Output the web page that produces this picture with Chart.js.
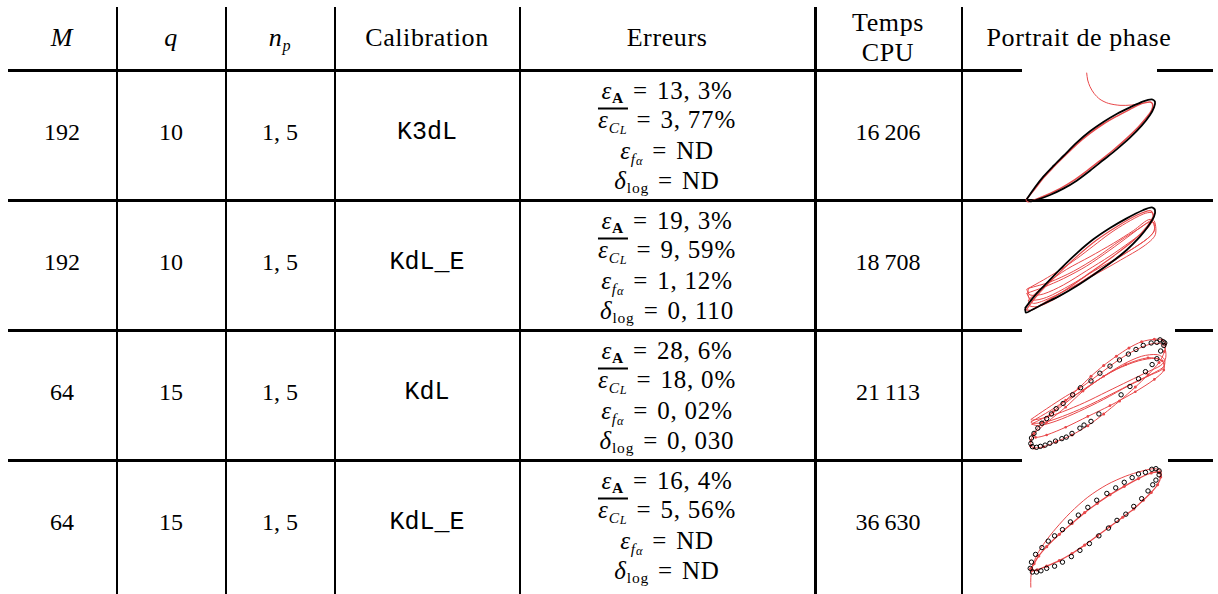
<!DOCTYPE html>
<html>
<head>
<meta charset="utf-8">
<script src="https://cdn.jsdelivr.net/npm/chart.js@4.4.0/dist/chart.umd.min.js"></script>
<style>
  body { margin:0; width:1218px; height:594px; background:#fff; position:relative; overflow:hidden;
         font-family:"Liberation Serif", "DejaVu Serif", serif; color:#000; }
  .hl { position:absolute; left:8px; width:1205px; height:3px; background:#000; }
  .vl { position:absolute; top:7px; height:590px; width:2px; background:#000; }
  .cell { position:absolute; text-align:center; white-space:nowrap; font-size:24px; transform:translate(-50%,-50%); }
  .head { font-size:26px; letter-spacing:0.6px; line-height:30px; }
  .mono { font-family:"Liberation Mono", "DejaVu Sans Mono", monospace; font-size:25px; }
  .err { font-size:25px; line-height:1; letter-spacing:0.8px; }
  .eq { margin:0 9px; }
  sub { font-size:62%; vertical-align:-0.3em; line-height:0; }
  sub sub { font-size:80%; vertical-align:-0.15em; }
  .ov { display:inline-block; border-top:2px solid #000; line-height:0.75; padding-top:1px; }
  .patch { position:absolute; background:#fff; height:5px; }
  canvas { position:absolute; }
</style>
</head>
<body>
<script>
// valeurs du tableau
var headers = ["<i>M</i>", "<i>q</i>", "<i>n</i><sub><i>p</i></sub>", "Calibration", "Erreurs", "Temps<br>CPU", "Portrait de phase"];
var colM = ["192", "192", "64", "64"];
var colQ = ["10", "10", "15", "15"];
var colNp = ["1, 5", "1, 5", "1, 5", "1, 5"];
var calibration = ["K3dL", "KdL_E", "KdL", "KdL_E"];
var errA = ["13, 3%", "19, 3%", "28, 6%", "16, 4%"];
var errCL = ["3, 77%", "9, 59%", "18, 0%", "5, 56%"];
var errF = ["ND", "1, 12%", "0, 02%", "ND"];
var deltaLog = ["ND", "0, 110", "0, 030", "ND"];
var tempsCPU = ["16\u2009206", "18\u2009708", "21\u2009113", "36\u2009630"];

// portraits de phase
var p1Noir = [[50,388],[75,352],[100,320],[130,288],[160,258],[200,218],[240,184],[280,156],[320,132],[360,112],[400,94],[425,88],[435,95],[432,112],[420,135],[395,167],[360,203],[320,238],[280,270],[240,302],[200,332],[160,356],[120,375],[85,388],[60,394],[50,388]];
var p1Rouge = [[48,390],[75,356],[100,324],[130,292],[160,262],[200,223],[240,190],[280,162],[320,139],[360,118],[395,101],[420,96],[428,103],[425,120],[410,142],[385,171],[350,205],[310,240],[270,272],[230,303],[190,332],[150,356],[110,375],[75,389],[55,395],[48,390]];
var p1Queue = [[230,8],[233,30],[240,50],[252,70],[270,88],[295,100],[330,106],[365,105],[395,100]];

var p2Noir = [[45,325],[70,292],[100,260],[150,208],[200,160],[250,118],[300,84],[350,55],[400,30],[425,22],[435,30],[432,50],[415,78],[390,110],[350,150],[300,190],[250,225],[200,258],[150,287],[100,312],[65,330],[48,338],[45,325]];
var p2RougeA = [[48,330],[80,288],[130,236],[200,170],[260,120],[320,80],[380,46],[420,32],[430,45],[412,78],[372,120],[312,167],[242,217],[172,266],[110,304],[65,330],[48,330]];
var p2RougeB = [[50,268],[100,240],[150,210],[200,176],[250,138],[300,100],[350,68],[400,42],[425,38],[430,55],[410,88],[360,126],[300,168],[230,212],[160,255],[100,282],[60,285],[50,268]];
var p2RougeC = [[50,280],[100,262],[160,236],[230,198],[300,150],[360,106],[410,70],[432,68],[430,98],[390,132],[320,175],[250,214],[180,256],[110,292],[65,300],[50,280]];
var p2RougeD = [[55,300],[110,250],[170,208],[240,170],[310,130],[370,92],[420,58],[434,88],[412,116],[362,150],[292,195],[222,240],[150,288],[90,318],[60,318],[55,300]];
var p2RougeE = [[55,265],[120,246],[190,214],[260,172],[330,122],[390,84],[430,60],[436,104],[402,138],[332,180],[262,220],[192,258],[120,294],[70,310],[55,290],[55,265]];

var p3Noir = [[468,38],[458,32],[448,40],[430,42],[405,50],[382,63],[358,78],[330,97],[300,117],[268,140],[240,165],[207,187],[182,210],[152,238],[130,255],[115,272],[100,287],[85,302],[72,318],[60,335],[52,350],[50,368],[55,378],[68,380],[80,377],[95,373],[110,367],[128,360],[148,352],[162,347],[180,335],[205,318],[218,308],[240,296],[265,272],[335,210],[363,183],[390,158],[412,135],[433,112],[448,93],[460,68],[470,50],[473,42]];
var p3Rouge1 = [[50,375],[60,382],[90,378],[130,362],[180,340],[230,310],[280,272],[330,230],[380,185],[420,145],[455,105],[472,70],[475,45],[465,32],[440,30],[400,38],[360,58],[320,85],[280,115],[240,150],[200,190],[160,228],[120,265],[85,300],[60,335],[50,360],[50,375]];
var p3Rouge2 = [[50,290],[100,255],[160,215],[210,185],[270,140],[330,95],[380,65],[430,45],[462,45],[475,65],[475,95],[460,115],[420,135],[360,165],[290,200],[220,235],[150,265],[90,285],[55,292],[50,290]];
var p3Rouge3 = [[50,298],[110,262],[170,222],[220,192],[280,150],[340,112],[400,85],[450,80],[472,95],[470,118],[440,138],[380,168],[300,210],[220,250],[150,280],[90,300],[55,302],[50,298]];
var p3Rouge4 = [[52,305],[120,268],[190,212],[250,170],[320,128],[390,100],[445,92],[470,105],[468,125],[430,145],[360,180],[280,225],[200,265],[130,295],[75,310],[52,305]];
var p3Rouge5 = [[55,340],[100,300],[160,250],[215,198],[280,150],[350,112],[420,90],[465,100],[470,130],[440,160],[380,200],[300,245],[230,280],[160,315],[100,340],[65,348],[55,340]];

var p4Noir = [[455,35],[445,28],[432,30],[412,40],[390,45],[370,57],[345,72],[318,90],[290,108],[258,130],[230,153],[200,178],[175,200],[150,225],[125,245],[105,262],[85,283],[65,305],[52,330],[48,350],[55,362],[68,362],[82,358],[100,350],[125,343],[150,330],[178,312],[205,292],[235,270],[265,245],[295,220],[322,195],[350,175],[375,150],[400,125],[420,100],[435,80],[445,65],[455,48]];
var p4Rouge = [[50,352],[60,335],[75,310],[100,280],[140,240],[180,205],[220,170],[260,140],[300,112],[345,85],[390,60],[430,42],[455,40],[460,55],[450,80],[430,105],[405,130],[375,158],[340,185],[300,215],[260,245],[220,275],[180,302],[140,325],[100,343],[70,355],[55,356],[50,352]];
var p4Arc = [[50,412],[50,380],[55,345],[70,305],[95,265],[130,220],[175,170],[230,120],[290,80],[350,52],[400,36],[440,28],[460,35],[462,50]];

var rouge = '#e8484a';
var colX = [62, 171, 280, 427, 667, 888, 1079];
var rowTop = [70, 200, 330, 460];

function add(html, cls, x, y) {
    var d = document.createElement('div');
    d.className = 'cell ' + (cls || '');
    d.innerHTML = html;
    d.style.left = x + 'px';
    d.style.top = y + 'px';
    document.body.appendChild(d);
    return d;
}
function line(cls, x, y, extra) {
    var d = document.createElement('div');
    d.className = cls;
    d.style.left = x + 'px';
    d.style.top = y + 'px';
    if (extra) d.style.width = extra + 'px';
    document.body.appendChild(d);
}

// grille
for (var i = 0; i < rowTop.length; i++) line('hl', 8, rowTop[i] - 1);
[117, 226, 335, 520, 962].forEach(function (x) { line('vl', x - 1, 7); });
line('vl', 814, 7, 3);
// bouts blancs des images
[[1022, 68, 135], [1022, 328, 153], [1022, 458, 146]].forEach(function (p) {
    var d = document.createElement('div');
    d.className = 'patch';
    d.style.left = p[0] + 'px'; d.style.top = p[1] + 'px'; d.style.width = p[2] + 'px';
    document.body.appendChild(d);
});

// en-tetes
for (var i = 0; i < headers.length; i++) {
    add(headers[i], 'head', colX[i], 38);
}

// lignes
var eq = '<span class="eq">=</span>';
for (var r = 0; r < 4; r++) {
    var mid = rowTop[r] + 62;
    add(colM[r], '', colX[0], mid);
    add(colQ[r], '', colX[1], mid);
    add(colNp[r], '', colX[2], mid);
    add(calibration[r], 'mono', colX[3], mid);
    add(tempsCPU[r], '', colX[5], mid);
    var t = rowTop[r];
    add('<i>ε</i><sub><b>A</b></sub>' + eq + errA[r], 'err', colX[4], t + 20);
    add('<span class="ov"><i>ε</i><sub><i>C</i><sub><i>L</i></sub></sub></span>' + eq + errCL[r], 'err', colX[4], t + 49);
    add('<i>ε</i><sub><i>f</i><sub><i>α</i></sub></sub>' + eq + errF[r], 'err', colX[4], t + 80);
    add('<i>δ</i><sub>log</sub>' + eq + deltaLog[r], 'err', colX[4], t + 110);
}

function pts(a) { return a.map(function (p) { return { x: p[0], y: p[1] }; }); }
function courbe(a, col, w, rad) {
    return { data: pts(a), showLine: true, borderColor: col, borderWidth: w, tension: 0.3,
             pointRadius: rad || 0, pointBackgroundColor: col, pointBorderColor: col, pointBorderWidth: 0 };
}
function cercles(a) {
    return { data: pts(a), showLine: false, pointRadius: 2.2, pointBorderColor: '#000', pointBorderWidth: 1,
             pointBackgroundColor: 'transparent' };
}
function portrait(top, h, datasets) {
    var c = document.createElement('canvas');
    c.width = 200; c.height = h;
    c.style.left = '1010px'; c.style.top = top + 'px';
    document.body.appendChild(c);
    new Chart(c, {
        type: 'scatter',
        data: { datasets: datasets },
        options: {
            responsive: false, animation: false, devicePixelRatio: 1,
            layout: { padding: 0 },
            plugins: { legend: { display: false }, tooltip: { enabled: false } },
            scales: {
                x: { display: false, min: 0, max: 600 },
                y: { display: false, min: 0, max: h * 3, reverse: true }
            }
        }
    });
}

portrait(70, 140, [courbe(p1Noir, '#000', 1.8), courbe(p1Rouge, rouge, 1.5), courbe(p1Queue, rouge, 1)]);
portrait(200, 130, [courbe(p2Noir, '#000', 1.8), courbe(p2RougeA, rouge, 1.2), courbe(p2RougeB, rouge, 1),
    courbe(p2RougeC, rouge, 1), courbe(p2RougeD, rouge, 1), courbe(p2RougeE, rouge, 1)]);
portrait(325, 135, [cercles(p3Noir), courbe(p3Rouge1, rouge, 1, 1.5), courbe(p3Rouge2, rouge, 1),
    courbe(p3Rouge3, rouge, 1), courbe(p3Rouge4, rouge, 1), courbe(p3Rouge5, rouge, 1, 1.3)]);
portrait(455, 140, [cercles(p4Noir), courbe(p4Rouge, rouge, 1.3, 1.6), courbe(p4Arc, rouge, 1)]);
</script>
</body>
</html>
